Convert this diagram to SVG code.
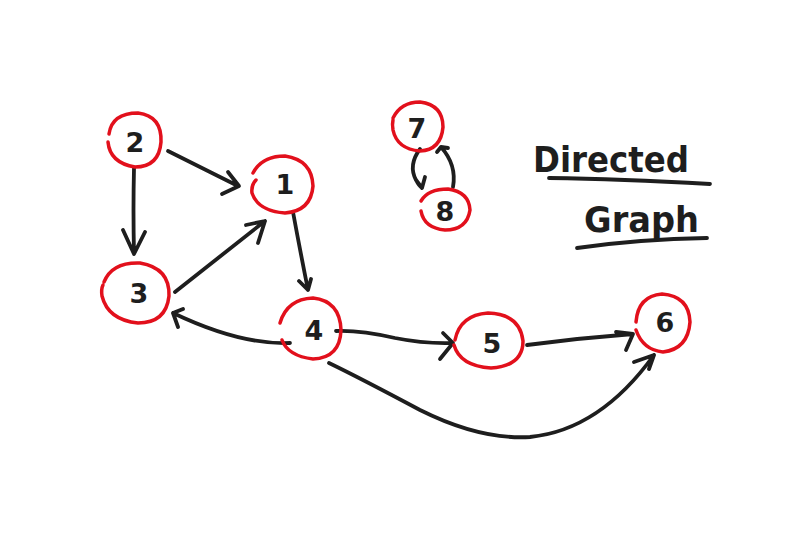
<svg xmlns="http://www.w3.org/2000/svg" width="810" height="541" viewBox="0 0 810 541">
<style>
.ring{fill:none;stroke:#e2101c;stroke-width:3.5;stroke-linecap:round}
.lbl{font-family:"DejaVu Sans","Liberation Sans",sans-serif;font-size:27px;font-weight:bold;fill:#1e1e1e;text-anchor:middle;dominant-baseline:central}
.e{fill:none;stroke:#1e1e1e;stroke-width:3.8;stroke-linecap:round;stroke-linejoin:round}
.title{font-family:"DejaVu Sans","Liberation Sans",sans-serif;font-size:36px;font-weight:bold;fill:#1e1e1e}
</style>
<rect width="810" height="541" fill="#ffffff"/>
<g id="connectors">
  <path class="e" d="M168,151 L238,186 M228,172 L239,186 L222,194"/>
  <path class="e" d="M134,168 Q133,210 134,254 M123,230 L134,254 L145,232"/>
  <path class="e" d="M175,292 L265,221 M246,225 L265,221 L258,243"/>
  <path class="e" d="M293,212 Q300,250 308,290 M299,281 L308,290 L311,279"/>
  <path class="e" d="M290,343 Q240,345 173,313 M183,309 L173,313 L178,327"/>
  <path class="e" d="M336,331 Q360,330 395,338 Q425,344 453,343 M443,333 L453,343 L440,359"/>
  <path class="e" d="M527,345 Q580,338 633,334 M616,332 L633,334 L626,350"/>
  <path class="e" d="M329,363 Q360,378 420,410 Q480,440 530,437 Q600,430 654,355 M634,362 L654,355 L649,369"/>
  <path class="e" d="M420,149 Q408,165 416,180 Q419,186 422,188 M416,180 L422,188 L425,177"/>
  <path class="e" d="M453,187 Q457,165 441,147 M437,152 L441,147 L448,148"/>
</g>
<g id="node-2">
  <path class="ring" d="M109,134 Q112,113 138,113 Q162,116 161,142 Q159,167 135,167 Q110,163 108,142"/>
  <text class="lbl" x="135" y="142">2</text>
</g>
<g id="node-1">
  <path class="ring" d="M253,173 Q262,156 285,156 Q312,160 313,186 Q311,211 285,213 Q258,211 252,193 Q251,185 256,180"/>
  <text class="lbl" x="285" y="184">1</text>
</g>
<g id="node-3">
  <path class="ring" d="M104,282 Q112,262 140,263 Q170,268 169,296 Q166,323 138,323 Q108,320 102,296 Q101,289 103,285"/>
  <text class="lbl" x="139" y="293">3</text>
</g>
<g id="node-4">
  <path class="ring" d="M280,323 Q287,299 313,298 Q340,301 341,330 Q340,358 313,359 Q288,356 282,340"/>
  <text class="lbl" x="314" y="330">4</text>
</g>
<g id="node-5">
  <path class="ring" d="M455,340 Q460,315 488,313 Q520,314 523,341 Q523,366 491,368 Q460,366 454,345"/>
  <text class="lbl" x="492" y="343">5</text>
</g>
<g id="node-6">
  <path class="ring" d="M636,322 Q638,296 662,294 Q689,296 690,322 Q688,349 663,352 Q643,350 636,330"/>
  <text class="lbl" x="665" y="322">6</text>
</g>
<g id="node-7">
  <path class="ring" d="M393,118 Q401,102 420,102 Q443,105 443,127 Q441,150 420,151 Q397,149 393,130 Q392,124 393,120"/>
  <text class="lbl" x="417" y="128">7</text>
</g>
<g id="node-8">
  <path class="ring" d="M421,201 Q428,189 448,189 Q469,192 470,210 Q467,230 445,230 Q424,228 421,211"/>
  <text class="lbl" x="445" y="211">8</text>
</g>
<g id="title">
  <text class="title" x="533" y="172" textLength="156" lengthAdjust="spacingAndGlyphs">Directed</text>
  <path class="e" d="M549,178 Q620,179 710,184"/>
  <text class="title" x="584" y="232" textLength="115" lengthAdjust="spacingAndGlyphs">Graph</text>
  <path class="e" d="M577,248 Q640,239 707,238"/>
</g>
</svg>
